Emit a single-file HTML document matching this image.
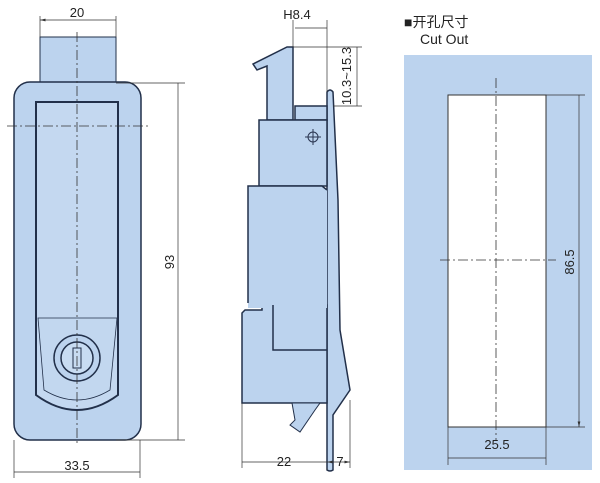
<!DOCTYPE html>
<html><head><style>body{margin:0;background:#fff}svg{display:block}text{font-family:"Liberation Sans",sans-serif;font-size:13px;fill:#222}</style></head><body>
<svg width="600" height="483" viewBox="0 0 600 483" xmlns="http://www.w3.org/2000/svg">
<defs><marker id="a" markerWidth="8" markerHeight="6" refX="8" refY="3" orient="auto-start-reverse"><path d="M0,1 L8,3 L0,5z" fill="#333"/></marker></defs>
<g stroke="#22304a" stroke-width="1.5" fill="#bcd3ee">
<!-- front view -->
<rect x="40" y="37" width="76" height="47" fill="#bcd3ee" stroke-width="1"/>
<rect x="14" y="82" width="127" height="358" rx="16"/>
<path d="M36,102 L118,102 L118,395 Q77,425 36,395 Z" fill="#c4d8f0" stroke-width="2"/>
<path d="M38,318 L117,318 L110,390 Q77,410 44,390 Z" fill="#c2d7ef" stroke-width="0.8"/>
<circle cx="77" cy="358" r="23"/><circle cx="77" cy="358" r="16" fill="#c8dcf2"/>
<rect x="73" y="348" width="8" height="20" fill="#c8dcf2" stroke-width="1"/>
<!-- side view -->
<path d="M327,92 Q330,88 333,92 L338,200 L340,330 L350,390 L333,415 L333,470 Q330,472 327,470 Z"/>
<path d="M253,64 L287,47 L293,47 L293,120 L267,120 L267,66 L257,70 Z"/>
<rect x="295" y="106" width="32" height="14"/>
<rect x="259" y="120" width="68" height="66"/>
<path d="M242,313 L245,310 L262,310 L262,305 L327,305 L327,403 L242,403 Z"/>
<path d="M248,186 L322,186 L327,190 L327,308 L248,308 Z" stroke="none"/>
<path d="M248,303 V186 H322 L327,190" fill="none"/>
<path d="M273,305 V350 H327" fill="none"/>
<path d="M292,403 L295,420 L290,425 L300,432 L315,410 L320,403 Z" stroke-width="1"/>
</g>
<g stroke="#2a3550" fill="none" stroke-width="1"><circle cx="313" cy="137" r="5"/><path d="M305,137h16M313,129v16"/></g>
<!-- cutout panel -->
<rect x="404" y="55" width="188" height="415" fill="#bcd3ee"/>
<rect x="448" y="95" width="98" height="332" fill="#fff" stroke="#333" stroke-width="1"/>
<g stroke="#333" stroke-width="0.8" fill="none" stroke-dasharray="10,3,2,3">
<path d="M77,32V445M7,126H150M496,78V440M440,260H556"/>
</g>
<g stroke="#333" stroke-width="0.7" fill="none">
<path d="M40,16V37M116,16V37M116,83H185M116,440H185M14,440V478M140,440V478M293,20V47M327,20V92M293,47H362M333,106H362M242,403V468M327,470V468M350,400V468M546,95H585M546,427H585M448,427V465M546,427V465"/>
<path d="M40,20H116M178,83V440M14,472H140M295,28H327M357,47V106M242,462H327M448,458H546M579,95V427" marker-start="url(#a)" marker-end="url(#a)"/>
<path d="M327,462H350" marker-start="url(#a)" marker-end="url(#a)"/>
</g>
<text x="77" y="17" text-anchor="middle">20</text>
<text x="77" y="470" text-anchor="middle">33.5</text>
<text transform="translate(174,262) rotate(-90)" text-anchor="middle">93</text>
<text x="297" y="19" text-anchor="middle" font-size="12">H8.4</text>
<text transform="translate(351,76) rotate(-90)" text-anchor="middle" font-size="12">10.3~15.3</text>
<text x="284" y="466" text-anchor="middle">22</text>
<text x="340" y="466" text-anchor="middle">7</text>
<text x="497" y="449" text-anchor="middle">25.5</text>
<text transform="translate(574,262) rotate(-90)" text-anchor="middle">86.5</text>
<text x="404" y="27" style="font-family:'Liberation Sans','Noto Sans CJK SC',sans-serif;font-size:14px">■开孔尺寸</text>
<text x="420" y="44" style="font-size:14px">Cut Out</text>
</svg>
</body></html>
